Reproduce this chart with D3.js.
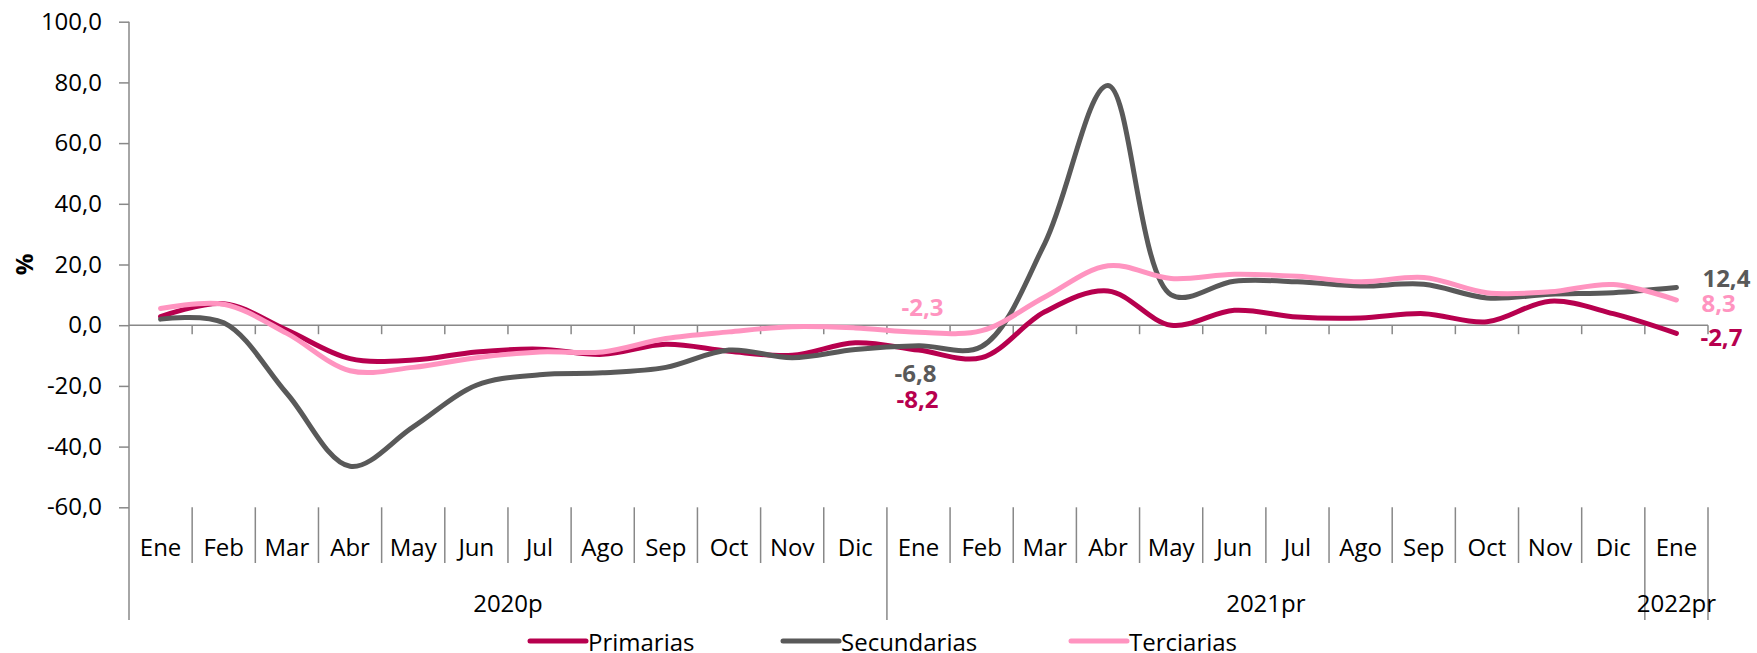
<!DOCTYPE html>
<html>
<head>
<meta charset="utf-8">
<script src="https://cdn.jsdelivr.net/npm/d3@7"></script>
<style>
  body { margin: 0; background: #fff; }
  svg { display: block; font-family: 'Open Sans', sans-serif; }
</style>
</head>
<body>
<svg id="chart"></svg>
<script>
const months = ['Ene', 'Feb', 'Mar', 'Abr', 'May', 'Jun', 'Jul', 'Ago', 'Sep', 'Oct', 'Nov', 'Dic',
  'Ene', 'Feb', 'Mar', 'Abr', 'May', 'Jun', 'Jul', 'Ago', 'Sep', 'Oct', 'Nov', 'Dic', 'Ene'];
const years = [
  { label: '2020p', start: 0, end: 12 },
  { label: '2021pr', start: 12, end: 24 },
  { label: '2022pr', start: 24, end: 25 },
];
const primarias = [2.8, 7.1, -1.6, -11.0, -11.5, -8.8, -7.9, -9.6, -6.3, -8.6, -9.9, -5.8,
  -8.2, -10.7, 4.4, 11.3, 0.0, 4.9, 2.7, 2.4, 3.8, 1.1, 7.9, 3.8, -2.7];
const secundarias = [2.0, 0.8, -22.5, -46.5, -33.5, -19.8, -16.3, -15.7, -13.9, -8.2, -10.7, -8.0,
  -6.8, -7.0, 27.0, 79.0, 10.0, 14.5, 14.3, 12.9, 13.5, 9.0, 10.2, 10.7, 12.4];
const terciarias = [5.5, 6.9, -2.7, -15.0, -13.9, -10.7, -8.8, -8.8, -4.4, -2.2, -0.5, -0.9,
  -2.3, -1.8, 9.3, 19.6, 15.4, 16.8, 16.1, 14.3, 15.7, 10.7, 11.0, 13.4, 8.3];
const yTicks = [-60, -40, -20, 0, 20, 40, 60, 80, 100];

const width = 1757;
const height = 653;
const plotLeft = 129;
const plotRight = 1708;
const plotTop = 21.7;
const plotBottom = 507.3;
const axisColor = '#888888';

const series = [
  { name: 'Primarias', values: primarias, color: '#B7004E' },
  { name: 'Secundarias', values: secundarias, color: '#595959' },
  { name: 'Terciarias', values: terciarias, color: '#FF94C0' },
];

const loc = d3.formatLocale({ decimal: ',', thousands: '.', grouping: [3], currency: ['', ''], minus: '-' });
const fmt = loc.format('.1f');

const svg = d3.select('#chart').attr('width', width).attr('height', height);

const xScale = d3.scaleBand().domain(d3.range(months.length)).range([plotLeft, plotRight]).padding(0);
const bw = xScale.bandwidth();
const xc = (i) => xScale(i) + bw / 2;
const yScale = d3.scaleLinear().domain([-60, 100]).range([plotBottom, plotTop]);

// y axis
const yAxis = d3.axisLeft(yScale).tickValues(yTicks).tickFormat(fmt).tickSize(10).tickPadding(17);
const gy = svg.append('g').attr('transform', 'translate(' + plotLeft + ',0)').call(yAxis);
gy.select('.domain').remove();
gy.selectAll('.tick line').attr('stroke', axisColor).attr('stroke-width', 1.5);
gy.selectAll('.tick text').style('font-size', '24px').attr('fill', '#000')
  .style('font-family', "'Open Sans', sans-serif");
svg.append('line')
  .attr('x1', plotLeft).attr('x2', plotLeft)
  .attr('y1', plotTop).attr('y2', 620)
  .attr('stroke', axisColor).attr('stroke-width', 1.5);

svg.append('text')
  .attr('transform', 'translate(23,' + yScale(20) + ') rotate(-90)')
  .attr('text-anchor', 'middle')
  .attr('dominant-baseline', 'central')
  .style('font-size', '24px')
  .style('font-weight', 'bold')
  .text('%');

// zero line with ticks
svg.append('line')
  .attr('x1', plotLeft).attr('x2', plotRight)
  .attr('y1', yScale(0)).attr('y2', yScale(0))
  .attr('stroke', axisColor).attr('stroke-width', 1.5);
svg.selectAll('.zt')
  .data(d3.range(1, months.length + 1))
  .enter().append('line')
  .attr('x1', (d) => xScale(0) + d * bw).attr('x2', (d) => xScale(0) + d * bw)
  .attr('y1', yScale(0)).attr('y2', yScale(0) + 9)
  .attr('stroke', axisColor).attr('stroke-width', 1.5);

// category separators
const yearBounds = years.map((d) => d.end);
svg.selectAll('.sep')
  .data(d3.range(1, months.length + 1))
  .enter().append('line')
  .attr('x1', (d) => xScale(0) + d * bw).attr('x2', (d) => xScale(0) + d * bw)
  .attr('y1', plotBottom)
  .attr('y2', (d) => (yearBounds.includes(d) ? 620 : 563))
  .attr('stroke', axisColor).attr('stroke-width', 1.5);

svg.selectAll('.mlab')
  .data(months)
  .enter().append('text')
  .attr('x', (d, i) => xc(i))
  .attr('y', 556)
  .attr('text-anchor', 'middle')
  .style('font-size', '24px')
  .text((d) => d);

svg.selectAll('.ylab')
  .data(years)
  .enter().append('text')
  .attr('x', (d) => xScale(0) + (d.start + d.end) / 2 * bw)
  .attr('y', 612)
  .attr('text-anchor', 'middle')
  .style('font-size', '24px')
  .text((d) => d.label);

// lines
const line = d3.line()
  .x((d, i) => xc(i))
  .y((d) => yScale(d))
  .curve(d3.curveCatmullRom.alpha(0.5));

svg.selectAll('.series')
  .data(series)
  .enter().append('path')
  .attr('d', (d) => line(d.values))
  .attr('fill', 'none')
  .attr('stroke', (d) => d.color)
  .attr('stroke-width', 5)
  .attr('stroke-linecap', 'round')
  .attr('stroke-linejoin', 'round');

// data labels
const mid = 12;
const last = months.length - 1;
const labels = [
  { s: 2, i: mid, dx: 4, dy: -26, anchor: 'middle' },
  { s: 1, i: mid, dx: -3, dy: 27, anchor: 'middle' },
  { s: 0, i: mid, dx: -1, dy: 48, anchor: 'middle' },
  { s: 1, i: last, dx: 26, dy: -10, anchor: 'start' },
  { s: 2, i: last, dx: 25, dy: 2, anchor: 'start' },
  { s: 0, i: last, dx: 24, dy: 3.5, anchor: 'start' },
];
svg.selectAll('.dlab')
  .data(labels)
  .enter().append('text')
  .attr('x', (d) => xc(d.i) + d.dx)
  .attr('y', (d) => yScale(series[d.s].values[d.i]) + d.dy)
  .attr('text-anchor', (d) => d.anchor)
  .attr('dominant-baseline', 'central')
  .attr('fill', (d) => series[d.s].color)
  .style('font-size', '24px')
  .style('font-weight', 'bold')
  .text((d) => fmt(series[d.s].values[d.i]));

// legend
const legendX = [530, 783, 1071];
const legend = svg.selectAll('.leg')
  .data(series)
  .enter().append('g')
  .attr('transform', (d, i) => 'translate(' + legendX[i] + ',641)');
legend.append('line')
  .attr('x1', 0).attr('x2', 56)
  .attr('stroke', (d) => d.color)
  .attr('stroke-width', 5)
  .attr('stroke-linecap', 'round');
legend.append('text')
  .attr('x', 58)
  .attr('y', 0)
  .attr('dominant-baseline', 'central')
  .style('font-size', '24px')
  .text((d) => d.name);
</script>
</body>
</html>
